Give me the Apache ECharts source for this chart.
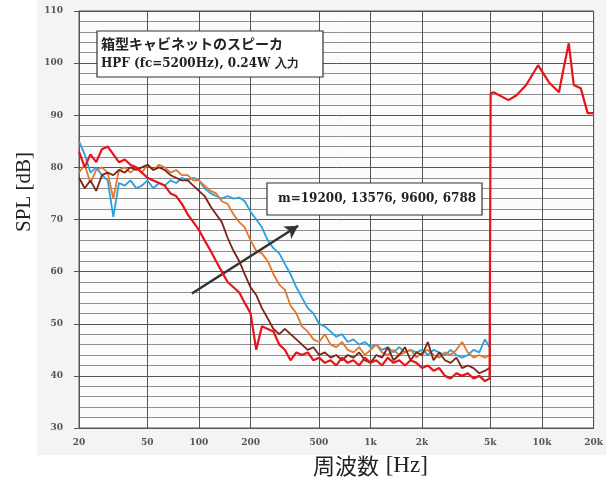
<!DOCTYPE html>
<html>
<head>
<meta charset="utf-8">
<script src="https://cdn.jsdelivr.net/npm/echarts@6/dist/echarts.min.js"></script>
<style>
  body { margin: 0; background: #fff; }
  #splChart { width: 606px; height: 481px; }
</style>
</head>
<body>
<div id="splChart"></div>
<script>
// x軸の目盛り
var xTicks = [20, 50, 100, 200, 500, 1000, 2000, 5000, 10000, 20000];
var xTickLabels = ['20', '50', '100', '200', '500', '1k', '2k', '5k', '10k', '20k'];

// 5kHz 以下の測定周波数
var freqLow = [20, 21.6, 23.3, 25.2, 27.2, 29.4, 31.7, 34.2, 37.0, 39.9,
  43.1, 46.5, 50.2, 54.2, 58.6, 63.2, 68.3, 73.7, 79.6, 86.0,
  92.8, 100, 108, 117, 126, 136, 147, 159, 172, 185,
  200, 216, 233, 252, 272, 294, 317, 342, 370, 399,
  431, 465, 502, 542, 586, 632, 683, 737, 796, 860,
  928, 1002, 1082, 1169, 1262, 1363, 1471, 1589, 1715, 1852,
  2000, 2160, 2332, 2518, 2719, 2936, 3170, 3423, 3696, 3991,
  4309, 4653, 4950];

// m=19200
var spl19200 = [85, 82.5, 79, 80, 78.5, 77.5, 70.5, 77, 76.5, 77.5,
  76, 76.5, 77.5, 76, 77, 76.5, 77.5, 77, 78, 77.5,
  78, 77.5, 76, 75, 74.5, 74, 74.5, 74, 74.2, 73.5,
  71.5, 70, 68.5, 66, 64.5, 63.5, 61.5, 59.5, 57, 55,
  53, 52, 50, 49.5, 48.5, 47.5, 48, 46.5, 47, 46,
  46.5, 45.5, 46, 45, 45.5, 44.5, 45.5, 44.5, 45, 44.5,
  45, 44, 45, 44.5, 44, 45, 44, 43.5, 44, 45,
  44.5, 47, 45.5];

// m=13576
var spl13576 = [79, 80.5, 77, 79.5, 80, 79, 74, 79.5, 80, 79,
  80, 79, 80.5, 79.5, 80.5, 80, 79, 79.5, 78.5, 78.5,
  77.5, 77.5, 76.5, 75.5, 75, 73.5, 73, 71, 69.5, 68.5,
  66, 64, 63.5, 62, 59.5, 57.5, 56.5, 53.5, 52, 49.5,
  48.5, 47, 46.5, 48, 46, 45.5, 46.5, 45, 44.5, 45.5,
  44, 45, 46, 44.5, 44, 45, 44, 44.5, 45, 43.5,
  44.5, 45, 44, 43.5, 44.5, 44, 45, 46.5, 44.5, 43.5,
  44, 43.5, 44];

// m=9600
var spl9600 = [78, 76, 77.5, 75.5, 78.5, 79, 78.5, 79.5, 79, 80,
  79.5, 80, 80.5, 79.5, 80, 79.5, 78.5, 78, 77.5, 77.5,
  76.5, 75.5, 74.5, 72.5, 71, 69.5, 66.5, 64, 62, 59.5,
  57, 55.5, 53, 51, 49, 48, 49, 48, 47, 46,
  45, 45.5, 44, 44.5, 43.5, 44, 43, 44, 43.5, 44.5,
  43, 42.5, 44, 43.5, 45.5, 43, 44, 45.5, 43, 44.5,
  44, 46.5, 43, 44.5, 43, 42.5, 43.5, 41.5, 42, 41.5,
  40.5, 41, 41.5];

// m=6788
var spl6788 = [83, 80, 82.5, 81, 83.5, 84, 82.5, 81, 81.5, 80.5,
  80, 79, 78, 77.5, 77, 76.5, 75, 74.5, 73, 71,
  69.5, 68, 66, 64, 62, 60, 58, 57, 56, 54,
  52, 45, 49.5, 49, 48.5, 46, 45, 43, 44.5, 44,
  44.5, 43, 43.5, 42.5, 43, 42, 43.5, 42.5, 43, 42,
  43.5, 42.5, 43, 42, 43.5, 42.5, 43, 42, 43, 42.5,
  41.5, 42, 41, 41.5, 40, 39.5, 40.5, 40, 40.5, 39.5,
  40, 39, 39.5];

// 5kHz 以上 (全条件で同じ)
var freqHigh = [5020, 5220, 6370, 7080, 8090, 9490, 10990, 12560, 13240, 14330, 15320, 16820, 18460, 20000];
var splHigh = [94.2, 94.4, 92.9, 93.8, 95.8, 99.6, 96.3, 94.4, 98.3, 103.8, 95.8, 95.2, 90.4, 90.4];

var seriesNames = ['m=19200', 'm=13576', 'm=9600', 'm=6788'];
var seriesColors = ['#2b9fdc', '#e2782c', '#7a2419', '#e8141c'];

var splChart = echarts.init(document.getElementById('splChart'));

function toPairs(freq, spl) {
  return freq.map(function (f, i) { return [f, spl[i]]; });
}

function tickLabel(v) {
  for (var i = 0; i < xTicks.length; i++) {
    if (Math.abs(xTicks[i] - v) / xTicks[i] < 0.01) return xTickLabels[i];
  }
  return '';
}

var lowData = [spl19200, spl13576, spl9600, spl6788];
var series = lowData.map(function (arr, k) {
  var data = toPairs(freqLow, arr);
  if (k == 3) {
    data = data.concat(toPairs(freqHigh, splHigh));
  }
  return {
    name: seriesNames[k],
    type: 'line',
    data: data,
    symbol: 'none',
    lineStyle: { color: seriesColors[k], width: k == 3 ? 2.2 : 1.8 },
    itemStyle: { color: seriesColors[k] },
    animation: false,
    z: 3 + k
  };
});

// 矢印
series.push({
  type: 'line',
  data: [],
  z: 10,
  markLine: {
    silent: true,
    animation: false,
    symbol: ['none', 'arrow'],
    symbolSize: [11, 13],
    label: { show: false },
    lineStyle: { color: '#333', width: 2.5, type: 'solid' },
    data: [[{ coord: [91, 55.8] }, { coord: [379, 68.8] }]]
  }
});

var serifFont = 'DejaVu Serif';

var option = {
  backgroundColor: '#fff',
  animation: false,
  grid: {
    left: 79, right: 8, top: 11, bottom: 53,
    show: true,
    backgroundColor: '#fbfbfb',
    borderColor: '#555',
    borderWidth: 1
  },
  xAxis: {
    type: 'log',
    logBase: 10,
    min: 20,
    max: 20000,
    axisLine: { show: true, lineStyle: { color: '#555' } },
    axisTick: { show: false, customValues: xTicks },
    axisLabel: {
      customValues: xTicks,
      formatter: tickLabel,
      fontFamily: serifFont,
      fontWeight: 'bold',
      fontSize: 9,
      color: '#555',
      margin: 10
    },
    splitLine: { show: true, lineStyle: { color: '#555', width: 1 } },
    minorSplitLine: { show: false }
  },
  yAxis: {
    type: 'value',
    min: 30,
    max: 110,
    interval: 10,
    axisLine: { show: true, lineStyle: { color: '#555' } },
    axisTick: { show: true, length: 5, lineStyle: { color: '#555' } },
    axisLabel: {
      fontFamily: serifFont,
      fontWeight: 'bold',
      fontSize: 9,
      color: '#555',
      margin: 16
    },
    splitLine: { show: true, lineStyle: { color: '#555', width: 1 } },
    minorTick: { show: false, splitNumber: 5 },
    minorSplitLine: { show: true, lineStyle: { color: '#8f8f8f', width: 1 } }
  },
  graphic: [
    { type: 'rect', z: -10, shape: { x: 37, y: 0, width: 569, height: 455 }, style: { fill: '#f4f4f4' } },
    {
      type: 'text', x: 24, y: 192, rotation: Math.PI / 2, z: 100,
      style: { text: 'SPL [dB]', fontFamily: 'Liberation Serif', fontSize: 21, fill: '#222', align: 'center', verticalAlign: 'middle' }
    },
    {
      type: 'text', x: 313, y: 466, z: 100,
      style: {
        text: '{a|周波数}  {b|[Hz]}',
        verticalAlign: 'middle',
        rich: {
          a: { fontFamily: 'Noto Sans CJK JP', fontSize: 22, fill: '#222' },
          b: { fontFamily: 'Liberation Serif', fontSize: 23, fill: '#222' }
        }
      }
    },
    { type: 'rect', z: 100, shape: { x: 97, y: 31, width: 226, height: 46 }, style: { fill: '#fff', stroke: '#333', lineWidth: 1.2 } },
    {
      type: 'text', x: 101, y: 44, z: 101,
      style: { text: '箱型キャビネットのスピーカ', fontFamily: 'Noto Sans CJK JP', fontWeight: 'bold', fontSize: 14, fill: '#222', verticalAlign: 'middle' }
    },
    {
      type: 'text', x: 101, y: 64, z: 101,
      style: { text: 'HPF (fc=5200Hz), 0.24W 入力', fontFamily: serifFont, fontWeight: 'bold', fontSize: 12, fill: '#222', verticalAlign: 'middle' }
    },
    { type: 'rect', z: 100, shape: { x: 267, y: 183, width: 215, height: 32 }, style: { fill: '#fff', stroke: '#333', lineWidth: 1.2 } },
    {
      type: 'text', x: 278, y: 199, z: 101,
      style: { text: 'm=19200, 13576, 9600, 6788', fontFamily: serifFont, fontWeight: 'bold', fontSize: 12, fill: '#222', verticalAlign: 'middle' }
    }
  ],
  series: series
};

splChart.setOption(option);
</script>
</body>
</html>
